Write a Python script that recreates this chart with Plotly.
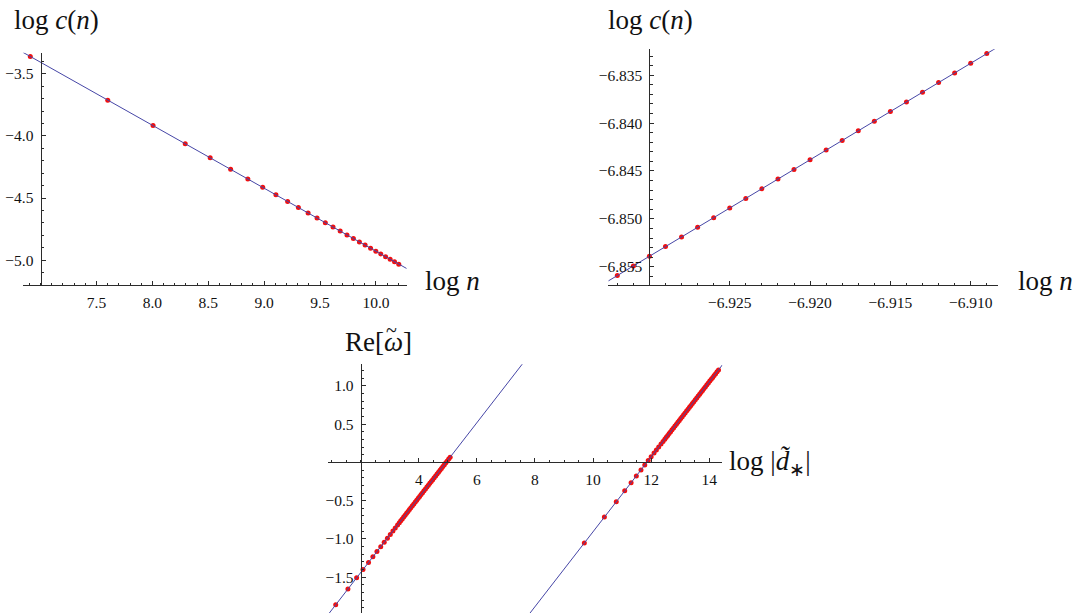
import plotly.graph_objects as go

# ---------------- data ----------------
# top-left panel: log c(n) vs log n
tl_log_n = [6.908, 7.601, 8.006, 8.294, 8.517, 8.700, 8.854, 8.987, 9.105, 9.210,
            9.306, 9.393, 9.473, 9.547, 9.616, 9.680, 9.741, 9.798, 9.852, 9.903,
            9.952, 9.999, 10.043, 10.086, 10.127, 10.166, 10.204]
tl_log_c = [-3.360, -3.712, -3.917, -4.063, -4.176, -4.269, -4.347, -4.414, -4.474, -4.527,
            -4.576, -4.620, -4.661, -4.698, -4.733, -4.766, -4.797, -4.826, -4.853, -4.879,
            -4.904, -4.928, -4.950, -4.972, -4.993, -5.012, -5.032]
tl_fit = [0.142, -0.507]          # intercept, slope

# top-right panel
tr_log_n = [-6.932, -6.931, -6.930, -6.929, -6.928, -6.927, -6.926, -6.925, -6.924, -6.923,
            -6.922, -6.921, -6.920, -6.919, -6.918, -6.917, -6.916, -6.915, -6.914, -6.913,
            -6.912, -6.911, -6.910, -6.909]
tr_log_c = [-6.85591, -6.85491, -6.85390, -6.85289, -6.85189, -6.85088, -6.84987, -6.84887,
            -6.84786, -6.84685, -6.84584, -6.84484, -6.84383, -6.84282, -6.84182, -6.84081,
            -6.83980, -6.83880, -6.83779, -6.83678, -6.83577, -6.83477, -6.83376, -6.83275]
tr_fit = [0.12461, 1.007]

# bottom panel: Re[omega] vs log|d*|, two branches
bl_log_d = [1.14, 1.56, 1.86, 2.08, 2.27, 2.42, 2.56, 2.69, 2.81, 2.92, 3.02, 3.11, 3.19, 3.27,
            3.33, 3.38, 3.43, 3.48, 3.53, 3.58, 3.63, 3.68, 3.73, 3.78, 3.83, 3.88, 3.93, 3.98,
            4.03, 4.08, 4.13, 4.18, 4.23, 4.28, 4.33, 4.38, 4.43, 4.48, 4.53, 4.58, 4.63, 4.68,
            4.73, 4.78, 4.83, 4.88, 4.93, 4.98, 5.03, 5.08]
bl_re_w = [-1.862, -1.656, -1.509, -1.401, -1.308, -1.235, -1.166, -1.102, -1.044, -0.990,
           -0.941, -0.897, -0.858, -0.818,
           -0.789, -0.764, -0.740, -0.715, -0.691, -0.666, -0.642, -0.617, -0.593, -0.568,
           -0.544, -0.519, -0.495, -0.470, -0.446, -0.421, -0.397, -0.372, -0.348, -0.323,
           -0.299, -0.274, -0.250, -0.225, -0.201, -0.176, -0.152, -0.127, -0.103, -0.078,
           -0.054, -0.029, -0.005, 0.020, 0.044, 0.069]
bl_fit = [-2.4206, 0.49]

br_log_d = [9.70, 10.39, 10.80, 11.09, 11.31, 11.49, 11.65, 11.78, 11.90, 12.00, 12.10, 12.18,
            12.26, 12.34, 12.41, 12.47,
            12.52, 12.57, 12.62, 12.67, 12.72, 12.77, 12.82, 12.87, 12.92, 12.97, 13.02, 13.07,
            13.12, 13.17, 13.22, 13.27, 13.32, 13.37, 13.42, 13.47, 13.52, 13.57, 13.62, 13.67,
            13.72, 13.77, 13.82, 13.87, 13.92, 13.97, 14.02, 14.07, 14.12, 14.17, 14.22, 14.27,
            14.32]
br_re_w = [-1.054, -0.715, -0.515, -0.372, -0.265, -0.176, -0.098, -0.034, 0.025, 0.074,
           0.123, 0.162, 0.201, 0.240, 0.274, 0.304,
           0.328, 0.353, 0.377, 0.402, 0.426, 0.451, 0.475, 0.500, 0.524, 0.549, 0.573, 0.598,
           0.622, 0.647, 0.671, 0.696, 0.720, 0.745, 0.769, 0.794, 0.818, 0.843, 0.867, 0.892,
           0.916, 0.941, 0.965, 0.990, 1.014, 1.039, 1.063, 1.088, 1.112, 1.137, 1.161, 1.186,
           1.210]
br_fit = [-5.8065, 0.49]

# tick labels
tl_xticks = [7.5, 8.0, 8.5, 9.0, 9.5, 10.0]
tl_yticks = [-3.5, -4.0, -4.5, -5.0]
tr_xticks = [-6.925, -6.920, -6.915, -6.910]
tr_yticks = [-6.835, -6.840, -6.845, -6.850, -6.855]
b_xticks = [4, 6, 8, 10, 12, 14]
b_yticks = [1.0, 0.5, -0.5, -1.0, -1.5]

# ---------------- layout geometry ----------------
W, H = 1086, 613
BLUE = "#4646a6"
RED = "#f01010"
AX = "#2b2b2b"
FONT = "Liberation Serif"


def fx(px):
    return px / W


def fy(py):
    return 1 - py / H


def fmt(vals, nd):
    return [f"{v:.{nd}f}".replace("-", "\u2212") for v in vals]


fig = go.Figure()

panels = [
    dict(sfx="", xpx=(22.7, 406.7), ypx=(52.7, 285.0), xr=(6.84, 10.275), yr=(-5.2, -3.33),
         ox=7.0, oy=-5.2, xt=tl_xticks, xtt=fmt(tl_xticks, 1), yt=tl_yticks, ytt=fmt(tl_yticks, 1),
         xminor=dict(dtick=0.1, tick0=7.0), yminor=dict(dtick=0.1, tick0=-5.0)),
    dict(sfx="2", xpx=(608.3, 997.7), ypx=(49.3, 285.0), xr=(-6.93256, -6.90832), yr=(-6.8569, -6.8323),
         ox=-6.930, oy=-6.8569, xt=tr_xticks, xtt=fmt(tr_xticks, 3), yt=tr_yticks, ytt=fmt(tr_yticks, 3),
         xminor=dict(dtick=0.001, tick0=-6.930), yminor=dict(dtick=0.001, tick0=-6.850)),
    dict(sfx="3", xpx=(328.3, 722.3), ypx=(364.3, 613.0), xr=(0.885, 14.45), yr=(-1.969, 1.283),
         ox=2.0, oy=0.0, xt=b_xticks, xtt=[str(v) for v in b_xticks], yt=b_yticks, ytt=fmt(b_yticks, 1),
         xminor=dict(dtick=0.5, tick0=2.0), yminor=dict(dtick=0.1, tick0=0.0)),
]

series = [
    ("", tl_log_n, tl_log_c, [tl_fit]),
    ("2", tr_log_n, tr_log_c, [tr_fit]),
    ("3", bl_log_d, bl_re_w, [bl_fit]),
    ("3", br_log_d, br_re_w, [br_fit]),
]

prange = {p["sfx"]: p for p in panels}

for sfx, xs, ys, fits in series:
    p = prange[sfx]
    fig.add_trace(go.Scatter(x=xs, y=ys, mode="markers", xaxis="x" + sfx, yaxis="y" + sfx,
                             marker=dict(color=RED, size=5, line=dict(width=0)),
                             showlegend=False, hoverinfo="skip"))
    for a, b in fits:
        lx = [p["xr"][0], p["xr"][1]]
        ly = [a + b * v for v in lx]
        fig.add_trace(go.Scatter(x=lx, y=ly, mode="lines", xaxis="x" + sfx, yaxis="y" + sfx,
                                 line=dict(color=BLUE, width=1), showlegend=False, hoverinfo="skip"))

layout = dict(width=W, height=H, margin=dict(l=0, r=0, t=0, b=0),
              paper_bgcolor="white", plot_bgcolor="rgba(0,0,0,0)", showlegend=False,
              font=dict(family=FONT, color="#111"))

for p in panels:
    s = p["sfx"]
    xd = [fx(p["xpx"][0]), fx(p["xpx"][1])]
    yd = [fy(p["ypx"][1]), fy(p["ypx"][0])]
    ypos = xd[0] + (p["ox"] - p["xr"][0]) / (p["xr"][1] - p["xr"][0]) * (xd[1] - xd[0])
    xpos = yd[0] + (p["oy"] - p["yr"][0]) / (p["yr"][1] - p["yr"][0]) * (yd[1] - yd[0])
    common = dict(showgrid=False, zeroline=False, showline=True, linecolor=AX, linewidth=1,
                  ticks="inside", ticklen=4, tickwidth=1, tickcolor=AX,
                  tickfont=dict(family=FONT, size=15.5, color="#111"), tickmode="array",
                  fixedrange=True)
    layout["xaxis" + s] = dict(common, domain=xd, range=list(p["xr"]), anchor="free", position=xpos,
                               tickvals=p["xt"], ticktext=p["xtt"], side="bottom",
                               ticklabelstandoff=3,
                               minor=dict(ticks="inside", ticklen=2.5, tickwidth=1, tickcolor=AX,
                                          tickmode="linear", showgrid=False, **p["xminor"]))
    layout["yaxis" + s] = dict(common, domain=yd, range=list(p["yr"]), anchor="free", position=ypos,
                               tickvals=p["yt"], ticktext=p["ytt"], side="left",
                               ticklabelstandoff=4,
                               minor=dict(ticks="inside", ticklen=2.5, tickwidth=1, tickcolor=AX,
                                          tickmode="linear", showgrid=False, **p["yminor"]))

fig.update_layout(**layout)

titles = [
    ("log <i>c</i>(<i>n</i>)", 12, 20, 27),
    ("log <i>n</i>", 423, 281, 27),
    ("log <i>c</i>(<i>n</i>)", 606, 20, 27),
    ("log <i>n</i>", 1016, 281, 27),
    ("Re[<i>\u03c9</i>]", 343, 342, 27),
    ("log |<i>d\u0303</i><sub>\u2217</sub>|", 727, 463, 27),
]
for txt, px, py, sz in titles:
    fig.add_annotation(text=txt, x=fx(px), y=fy(py), xref="paper", yref="paper",
                       xanchor="left", yanchor="middle", showarrow=False,
                       font=dict(family=FONT, size=sz, color="#111"))

# tilde accent over the omega
fig.add_annotation(text="~", x=fx(391), y=fy(330), xref="paper", yref="paper",
                   xanchor="center", yanchor="middle", showarrow=False,
                   font=dict(family=FONT, size=20, color="#111"))

fig.write_html("out.html", config={"displayModeBar": False},
               post_script="document.body.style.margin='0';")
